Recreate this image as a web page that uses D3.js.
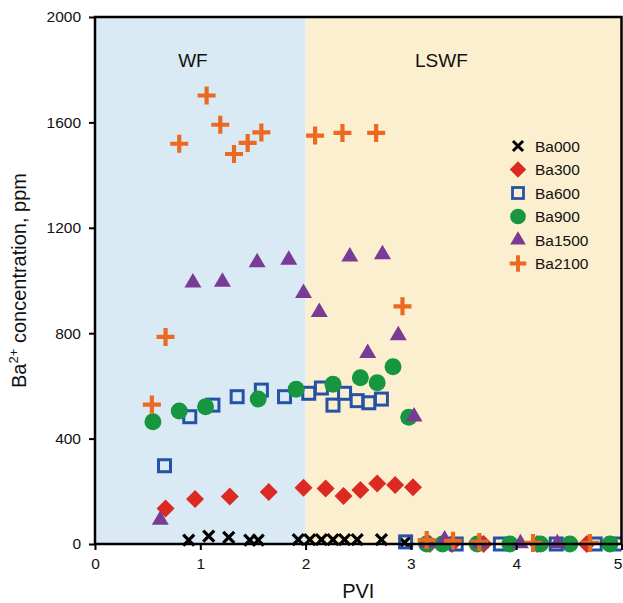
<!DOCTYPE html>
<html>
<head>
<meta charset="utf-8">
<script src="https://cdn.jsdelivr.net/npm/d3@7"></script>
<style>
  body { margin: 0; background: #fff; }
  svg text { font-family: "Liberation Sans", Arial, sans-serif; fill: #111; }
</style>
</head>
<body>
<svg id="chart" width="623" height="603"></svg>
<script>
// series values (PVI, ppm)
const ba000X = [0.89, 1.08, 1.27, 1.47, 1.55, 1.93, 2.04, 2.15, 2.26, 2.37, 2.49, 2.72, 2.94];
const ba000Y = [15, 30, 25, 15, 15, 17, 17, 17, 17, 17, 17, 17, 5];

const ba300X = [0.67, 0.95, 1.28, 1.65, 1.98, 2.19, 2.36, 2.52, 2.68, 2.85, 3.02, 3.18, 3.39, 3.69, 4.2, 4.67];
const ba300Y = [135, 171, 180, 197, 213, 211, 182, 205, 230, 224, 215, 0, 0, 0, 0, 0];

const ba600X = [0.66, 0.90, 1.12, 1.35, 1.58, 1.80, 2.03, 2.15, 2.26, 2.37, 2.49, 2.60, 2.72, 2.95, 3.43, 3.85, 4.38, 4.75, 4.99];
const ba600Y = [297, 483, 527, 559, 584, 559, 572, 592, 527, 572, 544, 536, 550, 8, 0, 0, 0, 0, 0];

const ba900X = [0.55, 0.80, 1.05, 1.55, 1.91, 2.26, 2.52, 2.68, 2.83, 2.98, 3.15, 3.30, 3.63, 3.94, 4.23, 4.51, 4.89];
const ba900Y = [464, 505, 521, 550, 587, 606, 631, 612, 673, 481, 0, 0, 0, 0, 0, 0, 0];

const ba1500X = [0.62, 0.93, 1.21, 1.54, 1.84, 1.98, 2.13, 2.42, 2.59, 2.73, 2.88, 3.03, 3.16, 3.32, 3.66, 4.04, 4.39];
const ba1500Y = [92, 992, 995, 1069, 1079, 953, 880, 1091, 725, 1100, 792, 484, 5, 17, 3, 3, 3];

const ba2100X = [0.54, 0.67, 0.80, 1.06, 1.19, 1.32, 1.45, 1.58, 2.09, 2.35, 2.67, 2.92, 3.15, 3.40, 3.65, 4.16, 4.70];
const ba2100Y = [529, 786, 1519, 1702, 1591, 1480, 1522, 1562, 1550, 1560, 1560, 902, 15, 12, 8, 4, 4];

const seriesNames = ["Ba000", "Ba300", "Ba600", "Ba900", "Ba1500", "Ba2100"];
const xTicks = [0, 1, 2, 3, 4, 5];
const yTicks = [0, 400, 800, 1200, 1600, 2000];
const zones = [{ name: "WF", from: 0, to: 2 }, { name: "LSWF", from: 2, to: 5 }];

const svg = d3.select("#chart");
const margin = { top: 17, right: 1.5, bottom: 59, left: 95 };
const width = +svg.attr("width") - margin.left - margin.right;
const height = +svg.attr("height") - margin.top - margin.bottom;

const x = d3.scaleLinear().domain([0, 5]).range([0, width]);
const y = d3.scaleLinear().domain([0, 2000]).range([height, 0]);

const g = svg.append("g").attr("transform", `translate(${margin.left},${margin.top})`);

svg.append("defs").append("clipPath").attr("id", "plotClip")
  .append("rect").attr("x", 0).attr("y", -10).attr("width", width).attr("height", height + 20);

// background zones
const zoneColor = { WF: "#daeaf5", LSWF: "#fcefcf" };
g.selectAll(".zone").data(zones).enter().append("rect")
  .attr("class", "zone")
  .attr("x", d => x(d.from)).attr("y", 0)
  .attr("width", d => x(d.to) - x(d.from)).attr("height", height)
  .attr("fill", d => zoneColor[d.name]);

g.selectAll(".zoneLabel").data(zones).enter().append("text")
  .attr("class", "zoneLabel")
  .attr("x", d => d.name == "WF" ? x(0.93) : x(3.29))
  .attr("y", 50)
  .attr("text-anchor", "middle")
  .attr("font-size", 19)
  .text(d => d.name);

// markers
const colors = {
  Ba000: "#000000", Ba300: "#dc2a22", Ba600: "#2552a5",
  Ba900: "#16963f", Ba1500: "#7a3b97", Ba2100: "#ea6a22"
};

function drawMarker(sel, name) {
  const c = colors[name];
  if (name == "Ba000") {
    sel.append("path").attr("d", "M-5.5,-5.5L5.5,5.5M-5.5,5.5L5.5,-5.5")
      .attr("stroke", c).attr("stroke-width", 3.2).attr("fill", "none");
  } else if (name == "Ba300") {
    sel.append("path").attr("d", "M0,-9L9,0L0,9L-9,0Z").attr("fill", c);
  } else if (name == "Ba600") {
    sel.append("rect").attr("x", -6).attr("y", -6).attr("width", 12).attr("height", 12)
      .attr("fill", "none").attr("stroke", c).attr("stroke-width", 3);
  } else if (name == "Ba900") {
    sel.append("circle").attr("r", 8.5).attr("fill", c);
  } else if (name == "Ba1500") {
    sel.append("path").attr("d", "M0,-9.5L8.5,5L-8.5,5Z").attr("fill", c);
  } else {
    sel.append("path").attr("d", "M-9,0L9,0M0,-9L0,9")
      .attr("stroke", c).attr("stroke-width", 4.2).attr("fill", "none");
  }
}

const allX = [ba000X, ba300X, ba600X, ba900X, ba1500X, ba2100X];
const allY = [ba000Y, ba300Y, ba600Y, ba900Y, ba1500Y, ba2100Y];

const pts = g.append("g").attr("clip-path", "url(#plotClip)");
seriesNames.forEach((name, i) => {
  const data = allX[i].map((v, j) => ({ pvi: v, ba: allY[i][j] }));
  pts.selectAll(".m" + name).data(data).enter().append("g")
    .attr("class", "m" + name)
    .attr("transform", d => `translate(${x(d.pvi)},${y(d.ba)})`)
    .each(function () { drawMarker(d3.select(this), name); });
});

// frame
g.append("rect").attr("width", width).attr("height", height)
  .attr("fill", "none").attr("stroke", "#000").attr("stroke-width", 2.5);

// axes
const xAxis = g.append("g").attr("transform", `translate(0,${height})`)
  .call(d3.axisBottom(x).tickValues(xTicks).tickSize(6).tickPadding(8).tickFormat(d3.format("d")));
const yAxis = g.append("g")
  .call(d3.axisLeft(y).tickValues(yTicks).tickSize(6).tickPadding(8).tickFormat(d3.format("d")));
[xAxis, yAxis].forEach(a => {
  a.select(".domain").remove();
  a.selectAll(".tick line").attr("stroke", "#000").attr("stroke-width", 2);
  a.selectAll(".tick text").attr("font-size", 15.5).attr("font-family", "Liberation Sans, Arial, sans-serif").attr("fill", "#111");
});
// last x label sits at the window edge; nudge it in so it stays whole
xAxis.selectAll(".tick text").filter(d => d == 5).attr("dx", -4);

svg.append("text")
  .attr("x", margin.left + width / 2).attr("y", 598)
  .attr("text-anchor", "middle").attr("font-size", 20)
  .text("PVI");

const yTitle = svg.append("text")
  .attr("transform", `translate(26,${margin.top + height / 2}) rotate(-90)`)
  .attr("text-anchor", "middle").attr("font-size", 20);
yTitle.append("tspan").text("Ba");
yTitle.append("tspan").attr("font-size", 13).attr("dy", -8).text("2+");
yTitle.append("tspan").attr("dy", 8).text(" concentration, ppm");

// legend
const legend = g.selectAll(".legend").data(seriesNames).enter().append("g")
  .attr("class", "legend")
  .attr("transform", (d, i) => `translate(${518 - margin.left},${146 - margin.top + i * 23.5})`);
legend.each(function (d) {
  const s = d3.select(this).append("g").attr("transform", "scale(0.92)");
  drawMarker(s, d);
});
legend.append("text").attr("x", 17).attr("y", 5.5).attr("font-size", 15.5).text(d => d);
</script>
</body>
</html>
